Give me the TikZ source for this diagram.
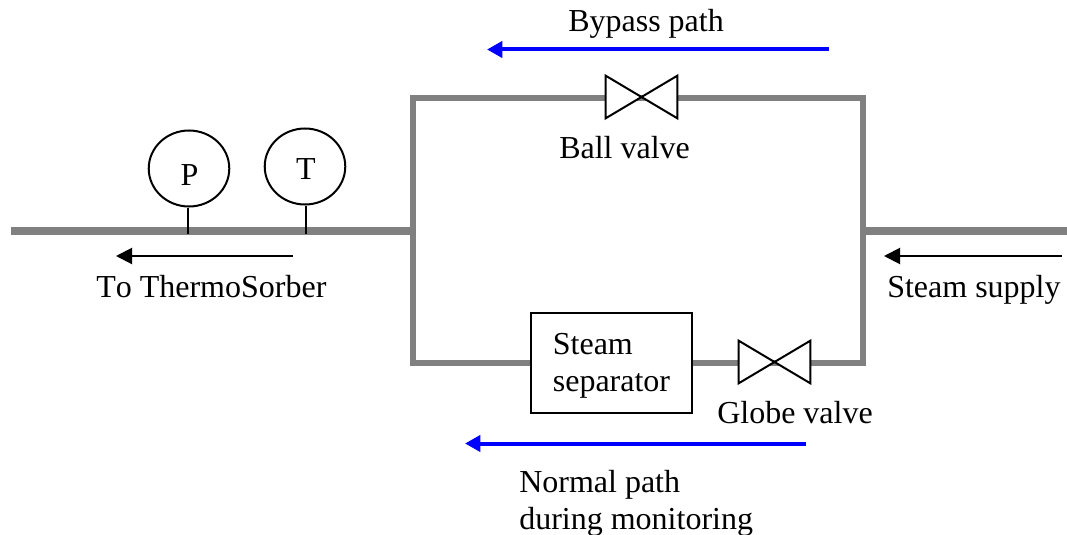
\documentclass[tikz,border=0pt]{standalone}
\usepackage{fontspec}
\setmainfont{Liberation Serif}
\usetikzlibrary{arrows.meta}
\tikzset{
  pipe/.style={draw=black!50,line width=4.5pt,line join=miter},
  mainpipe/.style={draw=black!50,line width=6pt},
  stem/.style={draw=black,line width=1.5pt},
  label/.style={inner sep=0pt,anchor=base west,font=\fontsize{24pt}{27.75pt}\selectfont,text=black},
  gauge/.style={shape=circle,draw=black,line width=1.5pt,fill=white,inner sep=0pt,minimum size=57pt,xscale=1.06},
  valvebox/.style={inner sep=0pt,minimum width=53.25pt,minimum height=31.5pt},
  bowtie/.style={draw=black,line width=1.5pt,fill=white,line join=miter},
  flow/.style={draw=blue,line width=3pt,-{Triangle[length=11.5pt,width=12pt]}},
  dir/.style={draw=black,line width=1.5pt,-{Triangle[length=12pt,width=12pt]}},
  sepbox/.style={draw=black,line width=1.5pt,fill=white,inner sep=0pt,minimum width=120.75pt,minimum height=75pt,align=left,font=\fontsize{24pt}{27.75pt}\selectfont},
}
\begin{document}
\begin{tikzpicture}[x=0.75pt,y=-0.75pt]
\useasboundingbox (0,0) rectangle (1067,535);
% named points
\coordinate (le) at (11,231);
\coordinate (jl) at (413,231);
\coordinate (jr) at (863,231);
\coordinate (re) at (1067,231);
\coordinate (tl) at (413,98);
\coordinate (tr) at (863,98);
\coordinate (bl) at (413,363);
\coordinate (br) at (863,363);
\coordinate (ps) at (188,234);
\coordinate (ts) at (306,234);
\coordinate (a1s) at (293,256);
\coordinate (a1e) at (116,256);
\coordinate (a2s) at (1062,256);
\coordinate (a2e) at (884,256);
\coordinate (b1s) at (829,49.5);
\coordinate (b1e) at (487,49.5);
\coordinate (b2s) at (806,443.5);
\coordinate (b2e) at (465,443.5);
% pipes
\draw[mainpipe] (le) -- (jl);
\draw[mainpipe] (jr) -- (re);
\draw[pipe] (bl) -- (tl) -- (tr) -- (br) -- cycle;
% sensors
\node[gauge] (P) at (189,168.5) {};
\node[gauge] (T) at (305,166.5) {};
\draw[stem] (P.south) ++(-1,0) -- (ps);
\draw[stem] (T.south) ++(1,0) -- (ts);
\node[label,anchor=base] (Pl) at (189.5,185) {P};
\node[label,anchor=base] (Tl) at (306,179) {T};
% valves
\node[valvebox] (bv) at (641.5,97) {};
\draw[bowtie] (bv.north west) -- (bv.south east) -- (bv.north east) -- (bv.south west) -- cycle;
\node[valvebox] (gv) at (774.5,362) {};
\draw[bowtie] (gv.north west) -- (gv.south east) -- (gv.north east) -- (gv.south west) -- cycle;
% separator
\node[sepbox] (sep) at (611.5,363) {\rule{0pt}{19.5pt}Steam\\separator};
% arrows
\draw[dir] (a1s) -- (a1e);
\draw[dir] (a2s) -- (a2e);
\draw[flow] (b1s) -- (b1e);
\draw[flow] (b2s) -- (b2e);
% labels
\node[label] (l1) at (568,32) {Bypass path};
\node[label] (l2) at (559,158) {Ball valve};
\node[label] (l3) at (96,297) {\addfontfeatures{Kerning=Off}To ThermoSorber};
\node[label] (l4) at (887,297) {Steam supply};
\node[label] (l5) at (717,423) {Globe valve};
\node[label,anchor=north west,align=left] (l6) at (519,470) {Normal path\\during monitoring};
\end{tikzpicture}
\end{document}
